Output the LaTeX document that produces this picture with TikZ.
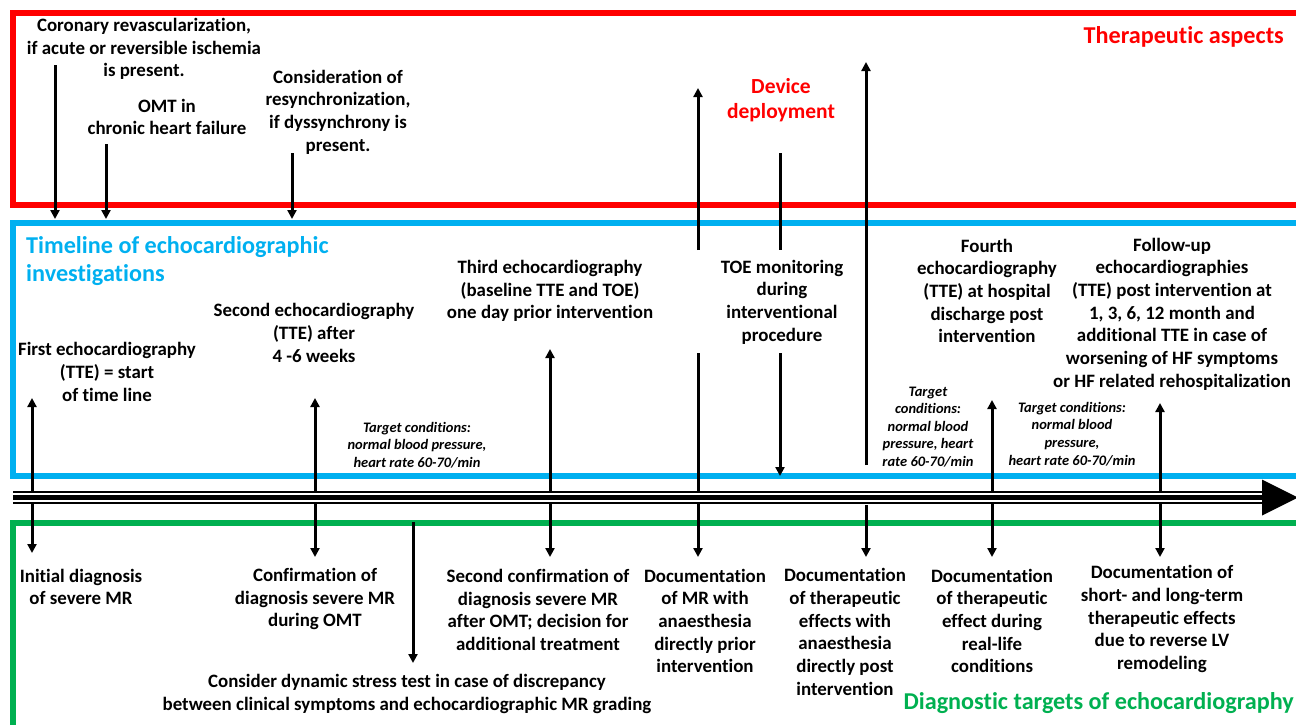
\documentclass[tikz,border=0pt]{standalone}
\usepackage{fontspec}
\setmainfont{Carlito}[Ligatures=NoCommon]
\usepackage{tikz}
\usetikzlibrary{arrows.meta}
\definecolor{thred}{RGB}{255,0,0}
\definecolor{tlblue}{RGB}{0,176,240}
\definecolor{dggreen}{RGB}{0,176,80}
\tikzstyle{box}=[line width=6pt]
\tikzstyle{txt}=[align=center, inner sep=0pt, font=\fontsize{18.9}{22.7}\selectfont\bfseries]
\tikzstyle{cond}=[align=center, inner sep=0pt, font=\fontsize{14.5}{17.6}\selectfont\bfseries\itshape]
\tikzstyle{ttl}=[inner sep=0pt, font=\fontsize{24.2}{28}\selectfont\bfseries]
\tikzstyle{stem}=[line width=3pt]
\tikzstyle{edge}=[stem, -{Triangle[length=9pt,width=9pt]}]
\tikzstyle{edges}=[stem, {Triangle[length=9pt,width=9pt]}-{Triangle[length=9pt,width=9pt]}]

\begin{document}
\begin{tikzpicture}[x=1pt, y=-1pt]
	\useasboundingbox (0,0) rectangle (1296,724);
	% the three areas
	\draw[box, thred] (1300,13) -- (13,13) -- (13,205) -- (1300,205);
	\draw[box, tlblue] (1300,222.5) -- (13,222.5) -- (13,476) -- (1300,476);
	\draw[box, dggreen] (1300,522.5) -- (13,522.5) -- (13,730);

	% therapeutic aspects
	\node[txt] (revasc) at (144,49) {Coronary revascularization,\\if acute or reversible ischemia\\is present.};
	\node[txt] (omt) at (167,117) {OMT in\\chronic heart failure};
	\node[txt] (resync) at (338,112) {Consideration of\\resynchronization,\\if dyssynchrony is\\present.};
	\node[txt, text=thred, font=\fontsize{21.5}{25}\selectfont\bfseries] (device) at (781,100) {Device\\deployment};
	\node[ttl, text=thred, anchor=east] (thera) at (1284,37) {Therapeutic aspects};

	% echocardiographic investigations
	\node[ttl, text=tlblue, align=left, anchor=west] (timeline) at (26,261) {Timeline of echocardiographic\\investigations};
	\node[txt] (first) at (107,372) {First echocardiography\\(TTE) = start\\of time line};
	\node[txt] (second) at (314,333) {Second echocardiography\\(TTE) after\\4 -6 weeks};
	\node[txt] (third) at (550,291) {Third echocardiography\\(baseline TTE and TOE)\\one day prior intervention};
	\node[txt] (toe) at (782,302) {TOE monitoring\\during\\interventional\\procedure};
	\node[txt] (fourth) at (987,291) {Fourth\\echocardiography\\(TTE) at hospital\\discharge post\\intervention};
	\node[txt] (follow) at (1172,314) {Follow-up\\echocardiographies\\(TTE) post intervention at\\1, 3, 6, 12 month and\\additional TTE in case of\\worsening of HF symptoms\\or HF related rehospitalization};
	\node[cond] (cond1) at (417,445) {Target conditions:\\normal blood pressure,\\heart rate 60-70/min};
	\node[cond] (cond2) at (928,427) {Target\\conditions:\\normal blood\\pressure, heart\\rate 60-70/min};
	\node[cond] (cond3) at (1072,434) {Target conditions:\\normal blood\\pressure,\\heart rate 60-70/min};

	% diagnostic targets
	\node[txt] (initial) at (81,587) {Initial diagnosis\\of severe MR};
	\node[txt] (confirm) at (315,599) {Confirmation of\\diagnosis severe MR\\during OMT};
	\node[txt] (confirm2) at (538,610) {Second confirmation of\\diagnosis severe MR\\after OMT; decision for\\additional treatment};
	\node[txt] (docprior) at (705,621) {Documentation\\of MR with\\anaesthesia\\directly prior\\intervention};
	\node[txt] (docpost) at (845,632) {Documentation\\of therapeutic\\effects with\\anaesthesia\\directly post\\intervention};
	\node[txt] (docreal) at (992,621) {Documentation\\of therapeutic\\effect during\\real-life\\conditions};
	\node[txt] (docterm) at (1162,619) {Documentation of\\short- and long-term\\therapeutic effects\\due to reverse LV\\remodeling};
	\node[txt] (stress) at (407,694) {Consider dynamic stress test in case of discrepancy\\between clinical symptoms and echocardiographic MR grading};
	\node[ttl, text=dggreen, anchor=east] (diag) at (1294,703) {Diagnostic targets of echocardiography};

	% arrow ends
	\foreach \n/\x/\y in {ra/55/65, rb/55/219, oa/106/144, ob/106/219, ca/292/153, cb/292/219,
		da/698/250, db/698/88, sa/780/153, sb/780/250, ua/866/465, ub/866/62,
		pa/698/353, pb/698/557, ta/780/353, tb/780/476, qa/866/505, qb/866/557,
		ka/413/522, kb/413/663,
		e1a/32/398, e1b/32/553, e2a/315/398, e2b/315/557, e3a/550/349, e3b/550/557,
		e4a/992/400, e4b/992/557, e5a/1160/403, e5b/1160/557}
		\coordinate (\n) at (\x,\y);

	\draw[edge] (ra) -- (rb);
	\draw[edge] (oa) -- (ob);
	\draw[edge] (ca) -- (cb);
	\draw[edge] (da) -- (db);
	\draw[stem] (sa) -- (sb);
	\draw[edge] (ua) -- (ub);
	\draw[edge] (pa) -- (pb);
	\draw[edge] (ta) -- (tb);
	\draw[edge] (qa) -- (qb);
	\draw[edge] (ka) -- (kb);
	\foreach \i in {1,...,5}
		\draw[edges] (e\i a) -- (e\i b);

	% time line
	\coordinate (tl0) at (13,497.5);
	\coordinate (tl1) at (1262,497.5);
	\draw[line width=13pt] (tl0) -- (tl1);
	\draw[white, line width=9pt] (tl0) -- (tl1);
	\draw[line width=5pt] (tl0) -- (tl1);
	\fill (tl1) ++(0,-18) -- ++(36,18) -- ++(-36,18) -- cycle;
\end{tikzpicture}
\end{document}
